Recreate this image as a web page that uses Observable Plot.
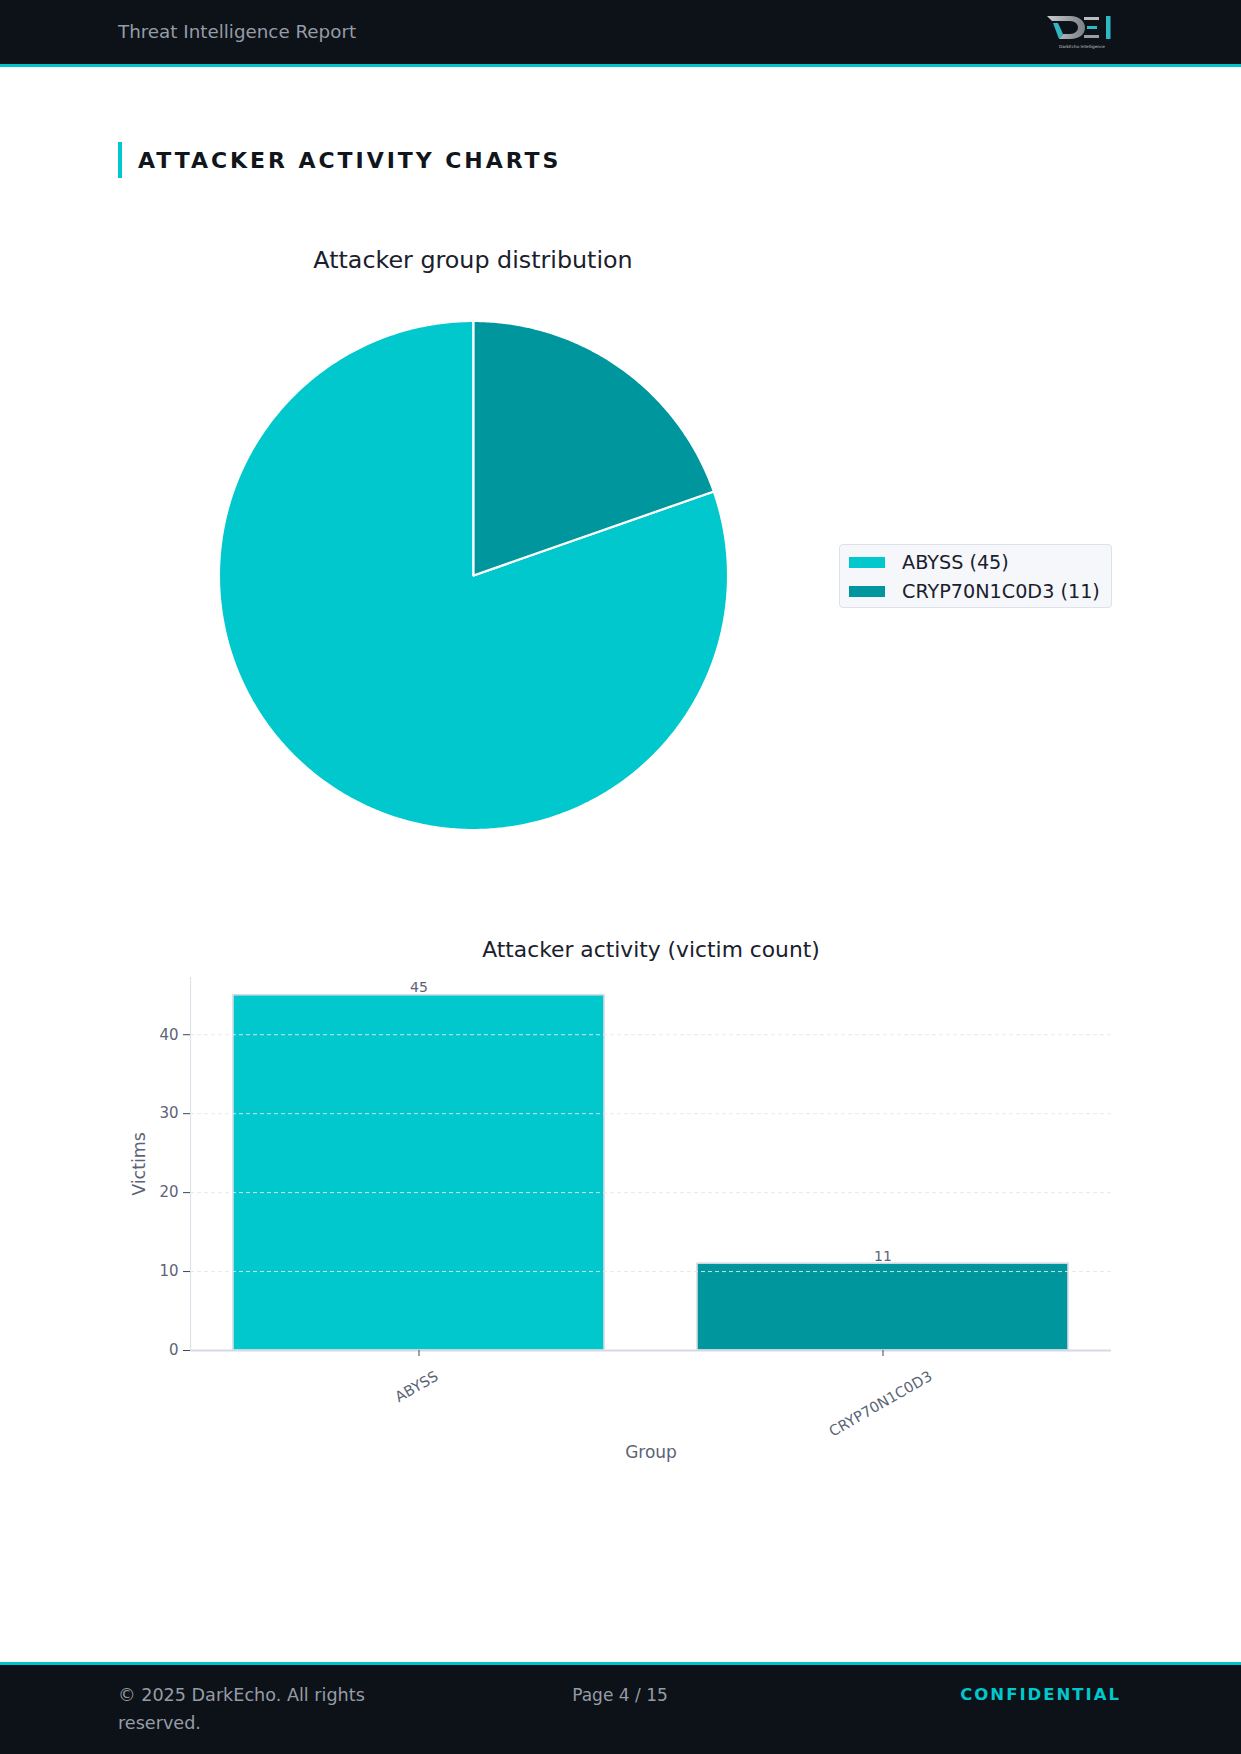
<!DOCTYPE html>
<html>
<head>
<meta charset="utf-8">
<script src="https://cdn.jsdelivr.net/npm/d3@7"></script>
<script src="https://cdn.jsdelivr.net/npm/@observablehq/plot@0.6"></script>
<style>
  html, body { margin: 0; padding: 0; background: #ffffff; }
  body { width: 1241px; height: 1754px; position: relative; overflow: hidden; font-family: "DejaVu Sans", sans-serif; }
  .abs { position: absolute; }
  #header { left: 0; top: 0; width: 1241px; height: 64px; background: #0d1118; border-bottom: 3px solid #00c2c8; }
  #header .t { position: absolute; left: 118px; top: 21px; font-size: 18.3px; color: #969ca6; line-height: 22px; }
  #footer { left: 0; top: 1662px; width: 1241px; height: 92px; background: #0d1118; border-top: 3px solid #00c2c8; box-sizing: border-box; }
  #footer .c1 { position: absolute; left: 118px; top: 16px; width: 290px; font-size: 17.6px; line-height: 28px; color: #969ca6; }
  #footer .c2 { position: absolute; left: 520px; width: 200px; top: 16px; text-align: center; font-size: 17px; line-height: 28px; color: #969ca6; }
  #footer .c3 { position: absolute; right: 120px; top: 16px; font-size: 16.5px; line-height: 28px; color: #00c8cc; font-weight: bold; letter-spacing: 2px; }
  #section { left: 118px; top: 142px; height: 36px; border-left: 4px solid #00c8cc; padding-left: 16px; font-size: 22px; font-weight: bold; letter-spacing: 2.95px; color: #11151c; line-height: 37px; }
  .ctitle { position: absolute; text-align: center; color: #1a202c; white-space: nowrap; }
  #legend { left: 839px; top: 544px; width: 273px; height: 64px; background: #f5f7fb; border: 1.5px solid #dde2ea; border-radius: 4px; box-sizing: border-box; }
  #legend .row { position: absolute; left: 9px; height: 22px; display: flex; align-items: center; font-size: 19.2px; color: #1a202c; white-space: nowrap; }
  #legend .sw { width: 36px; height: 11px; margin-right: 17px; }
</style>
</head>
<body>
<script>
// ---------------- data ----------------
const groups = ["ABYSS", "CRYP70N1C0D3"];
const victims = [45, 11];
const groupColors = ["#00c8cc", "#00969e"];
const yTicks = [0, 10, 20, 30, 40];
const gridTicks = [10, 20, 30, 40];
const yMax = 47.25;

const pageTitle = "ATTACKER ACTIVITY CHARTS";
const pieTitle = "Attacker group distribution";
const barTitle = "Attacker activity (victim count)";
const yLabel = "Victims";
const xLabel = "Group";
const headerText = "Threat Intelligence Report";
const footerLeft = "© 2025 DarkEcho. All rights reserved.";
const footerMid = "Page 4 / 15";
const footerRight = "CONFIDENTIAL";

const rows = groups.map((g, i) => ({group: g, count: victims[i]}));
const font = "DejaVu Sans";

// ---------------- page chrome ----------------
function el(tag, cls, parent, text) {
  const e = document.createElement(tag);
  if (cls) e.className = cls;
  if (text != null) e.textContent = text;
  (parent || document.body).appendChild(e);
  return e;
}
const header = el("div", "abs", document.body); header.id = "header";
el("div", "t", header, headerText);
// logo (decorative)
header.insertAdjacentHTML("beforeend", `
<svg style="position:absolute;left:1044px;top:12px" width="76" height="40" viewBox="0 0 76 40">
  <defs><linearGradient id="lg" x1="0" x2="1"><stop offset="0" stop-color="#c9ccd0"/><stop offset="1" stop-color="#7c8086"/></linearGradient></defs>
  <path d="M3,4 H26 C36,4 41,10 41,15.5 C41,22 36,27 26,27 H15 L19,22 H26 C31,22 34,19 34,15.5 C34,12 31,9 26,9 H8 Z" fill="url(#lg)"/>
  <path d="M9,11 L14,11 L19,22 L15,27 Z" fill="#2fb8c4"/>
  <rect x="40" y="5" width="15" height="3" fill="#b9bcc0"/>
  <rect x="43" y="14" width="10" height="3" fill="#2fb8c4"/>
  <rect x="40" y="23" width="15" height="3" fill="#9a9ea4"/>
  <rect x="62" y="4" width="4.5" height="23" fill="#2fb8c4"/>
  <text x="38" y="36" font-size="4.2" fill="#c4c8cc" text-anchor="middle" font-family="DejaVu Sans">DarkEcho Intelligence</text>
</svg>`);

const section = el("div", "abs", document.body, pageTitle); section.id = "section";

const footer = el("div", "abs", document.body); footer.id = "footer";
el("div", "c1", footer, footerLeft);
el("div", "c2", footer, footerMid);
el("div", "c3", footer, footerRight);

// ---------------- pie chart ----------------
const pt = el("div", "ctitle", document.body, pieTitle);
pt.style.cssText += "left:273px;width:400px;top:245px;font-size:23.8px;line-height:30px;";

const pie = d3.pie().sort(null).value(d => d.count).startAngle(0).endAngle(-2 * Math.PI)(rows);
const piePts = [];
for (const a of pie) {
  const n = Math.max(8, Math.round(Math.abs(a.endAngle - a.startAngle) / (2 * Math.PI) * 720));
  piePts.push({group: a.data.group, x: 0, y: 0});
  for (let k = 0; k <= n; k++) {
    const t = a.startAngle + (a.endAngle - a.startAngle) * k / n;
    piePts.push({group: a.data.group, x: Math.sin(t), y: Math.cos(t)});
  }
  piePts.push({group: a.data.group, x: 0, y: 0});
}
const pieSvg = Plot.plot({
  width: 560, height: 560, margin: 0,
  x: {domain: [-1.1, 1.1], axis: null},
  y: {domain: [-1.1, 1.1], axis: null},
  color: {domain: groups, range: groupColors},
  style: {fontFamily: font, background: "transparent", overflow: "visible"},
  marks: [
    Plot.line(piePts, {x: "x", y: "y", z: "group", fill: "group", stroke: "white", strokeWidth: 2.2, strokeLinejoin: "round", curve: "linear"})
  ]
});
pieSvg.style.position = "absolute"; pieSvg.style.left = "193px"; pieSvg.style.top = "295px";
document.body.appendChild(pieSvg);

// legend
const legend = el("div", "abs", document.body); legend.id = "legend";
groups.forEach((g, i) => {
  const r = el("div", "row", legend);
  r.style.top = (6 + i * 29) + "px";
  const s = el("div", "sw", r); s.style.background = groupColors[i];
  el("span", null, r, `${g} (${victims[i]})`);
});

// ---------------- bar chart ----------------
const bt = el("div", "ctitle", document.body, barTitle);
bt.style.cssText += "left:451px;width:400px;top:936px;font-size:21.8px;line-height:28px;";

const axisColor = "#5b6477";
const barSvg = Plot.plot({
  width: 1041, height: 510,
  marginLeft: 90, marginRight: 30, marginTop: 17, marginBottom: 120,
  x: {domain: groups, paddingInner: 0.2, paddingOuter: 0.0915, axis: null},
  y: {domain: [0, yMax], axis: null},
  color: {domain: groups, range: groupColors},
  style: {fontFamily: font, background: "transparent", overflow: "visible"},
  marks: [
    Plot.barY(rows, {x: "group", y: "count", fill: "group", stroke: "#d6dbe4", strokeWidth: 1.6}),
    Plot.gridY(gridTicks, {stroke: "#e3e7ee", strokeOpacity: 0.9, strokeWidth: 1, strokeDasharray: "4,3"}),
    Plot.ruleY([0], {stroke: "#d5dae5", strokeWidth: 2}),
    Plot.frame({anchor: "left", stroke: "#dde1ea", strokeWidth: 1.2}),
    Plot.axisY(yTicks, {tickSize: 7, tickPadding: 5, stroke: "#3d4656", fill: axisColor, fontSize: 15, label: null}),
    Plot.axisX({tickSize: 6, tickFormat: () => "", label: null, stroke: "#3d4656"}),
    Plot.text(rows, {x: "group", y: "count", text: d => String(d.count), lineAnchor: "bottom", dy: -3, fill: axisColor, fontSize: 14}),
    Plot.text(groups, {x: d => d, text: d => d, frameAnchor: "bottom", rotate: -30, dy: 40, fill: axisColor, fontSize: 14.6, className: "xlab"}),
    Plot.text([yLabel], {text: d => d, frameAnchor: "left", textAnchor: "middle", rotate: -90, dx: -51, fill: axisColor, fontSize: 17.4}),
    Plot.text([xLabel], {text: d => d, frameAnchor: "bottom", dy: 107, fill: axisColor, fontSize: 17})
  ]
});
barSvg.style.position = "absolute"; barSvg.style.left = "100px"; barSvg.style.top = "960px";
document.body.appendChild(barSvg);

// place rotated tick labels like matplotlib (bbox top-centre under the tick)
(function adjust() {
  const svgRect = barSvg.getBoundingClientRect();
  const targetTop = 390 + 17; // frame bottom (svg coords) + pad
  barSvg.querySelectorAll(".xlab text").forEach(t => {
    const r = t.getBoundingClientRect();
    const delta = targetTop - (r.top - svgRect.top);
    t.setAttribute("transform", `translate(0,${delta.toFixed(2)}) ` + (t.getAttribute("transform") || ""));
  });
})();
</script>
</body>
</html>
